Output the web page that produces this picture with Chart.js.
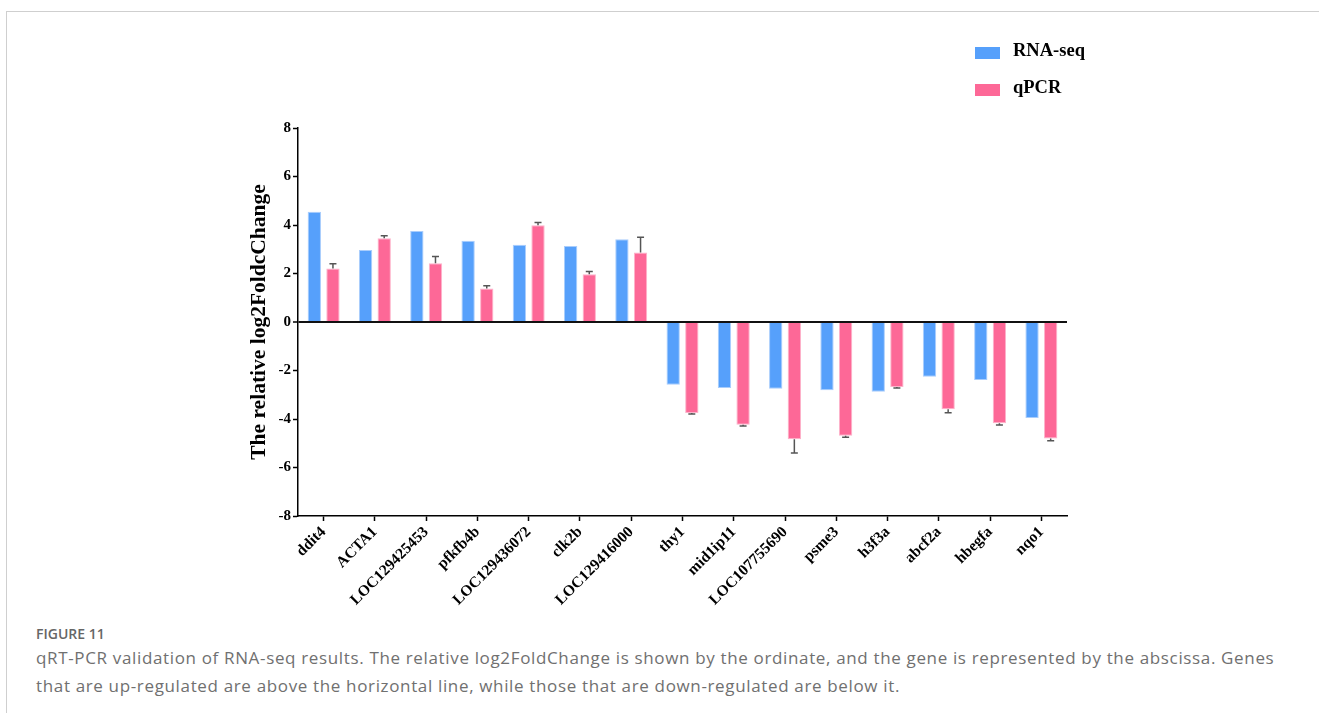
<!DOCTYPE html>
<html>
<head>
<meta charset="utf-8">
<title>qRT-PCR validation</title>
<script src="https://cdn.jsdelivr.net/npm/chart.js@4.4.1/dist/chart.umd.min.js"></script>
<style>
  body { margin: 0; background: #fff; width: 1319px; height: 713px; overflow: hidden; position: relative; }
  #frame { position: absolute; left: 6px; top: 11px; width: 1400px; height: 800px;
           border-top: 1.5px solid #cfcfcf; border-left: 1.5px solid #cfcfcf; }
  #chartId { position: absolute; left: 0; top: 0; }
  #legend { position: absolute; left: 975px; top: 44px; font-family: "Liberation Serif", serif;
            font-weight: bold; font-size: 18.5px; color: #000; }
  .item { position: relative; height: 37px; }
  .box { position: absolute; left: 0; top: 3px; width: 25px; height: 12px; }
  .lbl { position: absolute; left: 38px; top: -4px; white-space: nowrap; }
  #caption { position: absolute; left: 36px; top: 624px; font-family: "Open Sans", sans-serif; color: #707070; }
  #caption .fig { font-size: 14px; font-weight: 600; color: #666; line-height: 20px; }
  #caption .txt { font-size: 17px; letter-spacing: 0.65px; line-height: 28px; white-space: nowrap; }
</style>
</head>
<body>
<div id="frame"></div>
<canvas id="chartId" width="1319" height="620"></canvas>
<div id="legend"></div>
<div id="caption">
  <div class="fig">FIGURE 11</div>
  <div class="txt">qRT-PCR validation of RNA-seq results. The relative log2FoldChange is shown by the ordinate, and the gene is represented by the abscissa. Genes<br>that are up-regulated are above the horizontal line, while those that are down-regulated are below it.</div>
</div>
<script>
// gene names on the x axis
const genes = ['ddit4', 'ACTA1', 'LOC129425453', 'pfkfb4b', 'LOC129436072', 'clk2b', 'LOC129416000',
  'thy1', 'mid1ip11', 'LOC107755690', 'psme3', 'h3f3a', 'abcf2a', 'hbegfa', 'nqo1'];

// log2FoldChange
const rnaSeq = [4.55, 2.97, 3.75, 3.35, 3.19, 3.13, 3.41,
  -2.59, -2.72, -2.75, -2.81, -2.88, -2.26, -2.39, -3.96];
const qpcr = [2.21, 3.45, 2.42, 1.38, 3.99, 1.97, 2.87,
  -3.75, -4.24, -4.84, -4.69, -2.68, -3.60, -4.18, -4.80];
// qPCR error (one sided, away from zero)
const qpcrErr = [0.19, 0.11, 0.28, 0.12, 0.11, 0.11, 0.62,
  0.04, 0.05, 0.56, 0.06, 0.04, 0.14, 0.07, 0.10];

const seriesNames = ['RNA-seq', 'qPCR'];
const seriesColors = ['#56a0fb', '#fd6897'];

// y axis
const yMin = -8, yMax = 8, yStep = 2;

const serif = '"Liberation Serif", "Times New Roman", serif';

// draws the error bars on top of the qPCR bars
const errorBars = {
  id: 'errorBars',
  afterDatasetsDraw(chart) {
    const ctx = chart.ctx;
    const meta = chart.getDatasetMeta(1);
    const yScale = chart.scales.y;
    ctx.save();
    ctx.strokeStyle = '#555';
    ctx.lineWidth = 1.5;
    meta.data.forEach(function (bar, i) {
      const v = qpcr[i];
      const end = v >= 0 ? v + qpcrErr[i] : v - qpcrErr[i];
      const yEnd = yScale.getPixelForValue(end);
      ctx.beginPath();
      ctx.moveTo(bar.x, bar.y);
      ctx.lineTo(bar.x, yEnd);
      ctx.moveTo(bar.x - 3.5, yEnd);
      ctx.lineTo(bar.x + 3.5, yEnd);
      ctx.stroke();
    });
    ctx.restore();
  }
};

var ctx = document.getElementById('chartId').getContext('2d');
var newChart = new Chart(ctx, {
  type: 'bar',
  data: {
    labels: genes,
    datasets: [{
      label: seriesNames[0],
      data: rnaSeq,
      backgroundColor: seriesColors[0],
      borderColor: 'rgba(160,200,252,0.9)',
      borderWidth: 1,
      categoryPercentage: 0.727,
      barPercentage: 0.715
    }, {
      label: seriesNames[1],
      data: qpcr,
      backgroundColor: seriesColors[1],
      borderColor: 'rgba(253,170,196,0.9)',
      borderWidth: 1,
      categoryPercentage: 0.727,
      barPercentage: 0.715
    }]
  },
  options: {
    responsive: false,
    animation: false,
    layout: { padding: { left: 240, top: 128, right: 252, bottom: 0 } },
    plugins: {
      legend: { display: false },
      tooltip: { enabled: false }
    },
    scales: {
      x: {
        afterFit: function (scale) { scale.height = 104; },
        border: { color: '#000', width: 1.5 },
        grid: { drawOnChartArea: false, offset: false, tickLength: 5, tickColor: '#000', tickWidth: 1.5 },
        ticks: {
          autoSkip: false, maxRotation: 45, minRotation: 45, color: '#000', padding: 2,
          font: { family: serif, weight: 'bold', size: 15.5 }
        }
      },
      y: {
        min: yMin,
        max: yMax,
        afterFit: function (scale) { scale.width = 58; },
        border: { color: '#000', width: 1.5 },
        grid: {
          color: function (c) { return c.tick && c.tick.value === 0 ? '#111' : 'rgba(0,0,0,0)'; },
          lineWidth: function (c) { return c.tick && c.tick.value === 0 ? 2 : 1; },
          tickColor: '#000', tickLength: 5, tickWidth: 1.5
        },
        ticks: {
          stepSize: yStep, color: '#000', padding: 2,
          font: { family: serif, weight: 'bold', size: 15 }
        },
        title: {
          display: true,
          text: 'The relative log2FoldcChange',
          color: '#000',
          padding: { top: 7, bottom: 0 },
          font: { family: serif, weight: 'bold', size: 21.5 }
        }
      }
    }
  },
  plugins: [errorBars]
});

// legend on the top right
const legend = document.getElementById('legend');
for (let i = 0; i < seriesNames.length; i++) {
  const item = document.createElement('div');
  item.className = 'item';
  item.innerHTML = '<span class="box" style="background:' + seriesColors[i] + '"></span>' +
    '<span class="lbl">' + seriesNames[i] + '</span>';
  legend.appendChild(item);
}
</script>
</body>
</html>
